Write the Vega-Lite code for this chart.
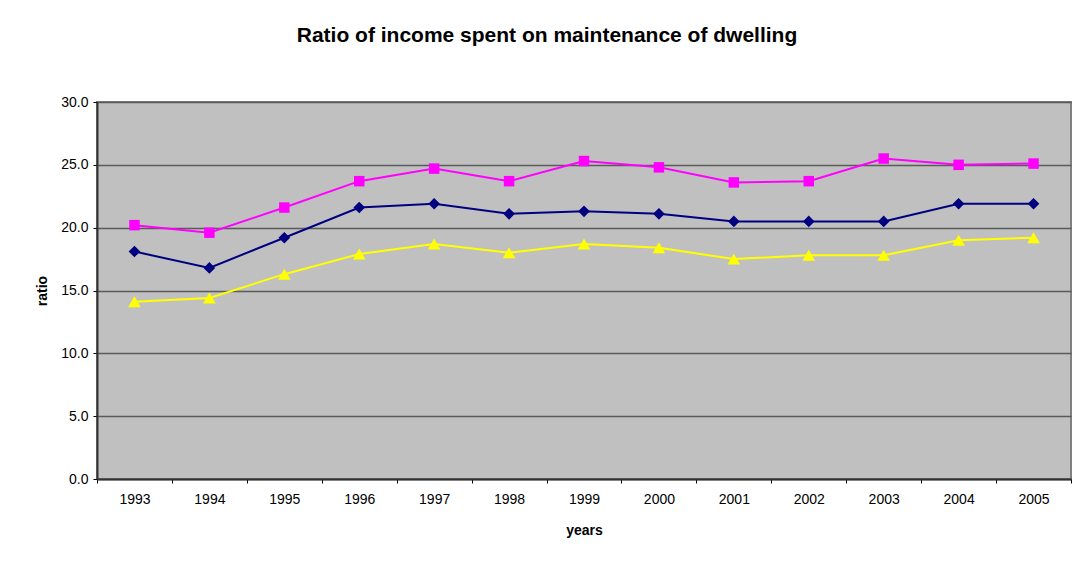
{
  "$schema": "https://vega.github.io/schema/vega-lite/v6.json",
  "width": 974,
  "height": 377,
  "autosize": {"type": "none"},
  "padding": {"left": 97, "top": 102, "right": 9, "bottom": 88},
  "background": "white",
  "title": {
    "text": "Ratio of income spent on maintenance of dwelling",
    "font": "Liberation Sans",
    "fontSize": 21,
    "fontWeight": "bold",
    "color": "black",
    "anchor": "middle",
    "frame": "group",
    "dx": -37,
    "offset": 49
  },
  "data": {
    "values": [
      {"year": "1993", "series": "A", "ratio": 20.2},
      {"year": "1994", "series": "A", "ratio": 19.6},
      {"year": "1995", "series": "A", "ratio": 21.6},
      {"year": "1996", "series": "A", "ratio": 23.7},
      {"year": "1997", "series": "A", "ratio": 24.7},
      {"year": "1998", "series": "A", "ratio": 23.7},
      {"year": "1999", "series": "A", "ratio": 25.3},
      {"year": "2000", "series": "A", "ratio": 24.8},
      {"year": "2001", "series": "A", "ratio": 23.6},
      {"year": "2002", "series": "A", "ratio": 23.7},
      {"year": "2003", "series": "A", "ratio": 25.5},
      {"year": "2004", "series": "A", "ratio": 25.0},
      {"year": "2005", "series": "A", "ratio": 25.1},
      {"year": "1993", "series": "B", "ratio": 18.1},
      {"year": "1994", "series": "B", "ratio": 16.8},
      {"year": "1995", "series": "B", "ratio": 19.2},
      {"year": "1996", "series": "B", "ratio": 21.6},
      {"year": "1997", "series": "B", "ratio": 21.9},
      {"year": "1998", "series": "B", "ratio": 21.1},
      {"year": "1999", "series": "B", "ratio": 21.3},
      {"year": "2000", "series": "B", "ratio": 21.1},
      {"year": "2001", "series": "B", "ratio": 20.5},
      {"year": "2002", "series": "B", "ratio": 20.5},
      {"year": "2003", "series": "B", "ratio": 20.5},
      {"year": "2004", "series": "B", "ratio": 21.9},
      {"year": "2005", "series": "B", "ratio": 21.9},
      {"year": "1993", "series": "C", "ratio": 14.1},
      {"year": "1994", "series": "C", "ratio": 14.4},
      {"year": "1995", "series": "C", "ratio": 16.3},
      {"year": "1996", "series": "C", "ratio": 17.9},
      {"year": "1997", "series": "C", "ratio": 18.7},
      {"year": "1998", "series": "C", "ratio": 18.0},
      {"year": "1999", "series": "C", "ratio": 18.7},
      {"year": "2000", "series": "C", "ratio": 18.4},
      {"year": "2001", "series": "C", "ratio": 17.5},
      {"year": "2002", "series": "C", "ratio": 17.8},
      {"year": "2003", "series": "C", "ratio": 17.8},
      {"year": "2004", "series": "C", "ratio": 19.0},
      {"year": "2005", "series": "C", "ratio": 19.2}
    ]
  },
  "encoding": {
    "x": {
      "field": "year",
      "type": "ordinal",
      "scale": {"type": "band", "paddingInner": 0, "paddingOuter": 0},
      "axis": {
        "title": "years",
        "labelAngle": 0,
        "tickBand": "extent",
        "tickSize": 4,
        "tickColor": "black",
        "domainColor": "#333333",
        "domainWidth": 2,
        "labelPadding": 9,
        "titlePadding": 17,
        "grid": false
      }
    },
    "y": {
      "field": "ratio",
      "type": "quantitative",
      "scale": {"domain": [0, 30], "nice": false, "zero": true},
      "axis": {
        "title": "ratio",
        "values": [0, 5, 10, 15, 20, 25, 30],
        "format": ".1f",
        "tickSize": 4,
        "tickColor": "black",
        "domainColor": "#333333",
        "domainWidth": 2,
        "labelPadding": 5,
        "titlePadding": 11,
        "grid": true,
        "gridColor": "#5a5a5a",
        "gridWidth": 1.3
      }
    },
    "color": {
      "field": "series",
      "type": "nominal",
      "scale": {"domain": ["A", "B", "C"], "range": ["#FF00FF", "#000080", "#FFFF00"]},
      "legend": null
    }
  },
  "layer": [
    {
      "mark": {"type": "line", "strokeWidth": 2}
    },
    {
      "mark": {"type": "point", "filled": true, "opacity": 1},
      "encoding": {
        "shape": {
          "field": "series",
          "type": "nominal",
          "scale": {"domain": ["A", "B", "C"], "range": ["square", "diamond", "triangle-up"]},
          "legend": null
        },
        "size": {
          "field": "series",
          "type": "nominal",
          "scale": {"domain": ["A", "B", "C"], "range": [110, 160, 140]},
          "legend": null
        }
      }
    }
  ],
  "config": {
    "font": "Liberation Sans",
    "view": {"fill": "#C0C0C0", "stroke": "#808080", "strokeWidth": 2},
    "axis": {
      "labelFont": "Liberation Sans",
      "labelFontSize": 14,
      "labelColor": "black",
      "titleFont": "Liberation Sans",
      "titleFontSize": 14,
      "titleFontWeight": "bold",
      "titleColor": "black"
    }
  }
}
